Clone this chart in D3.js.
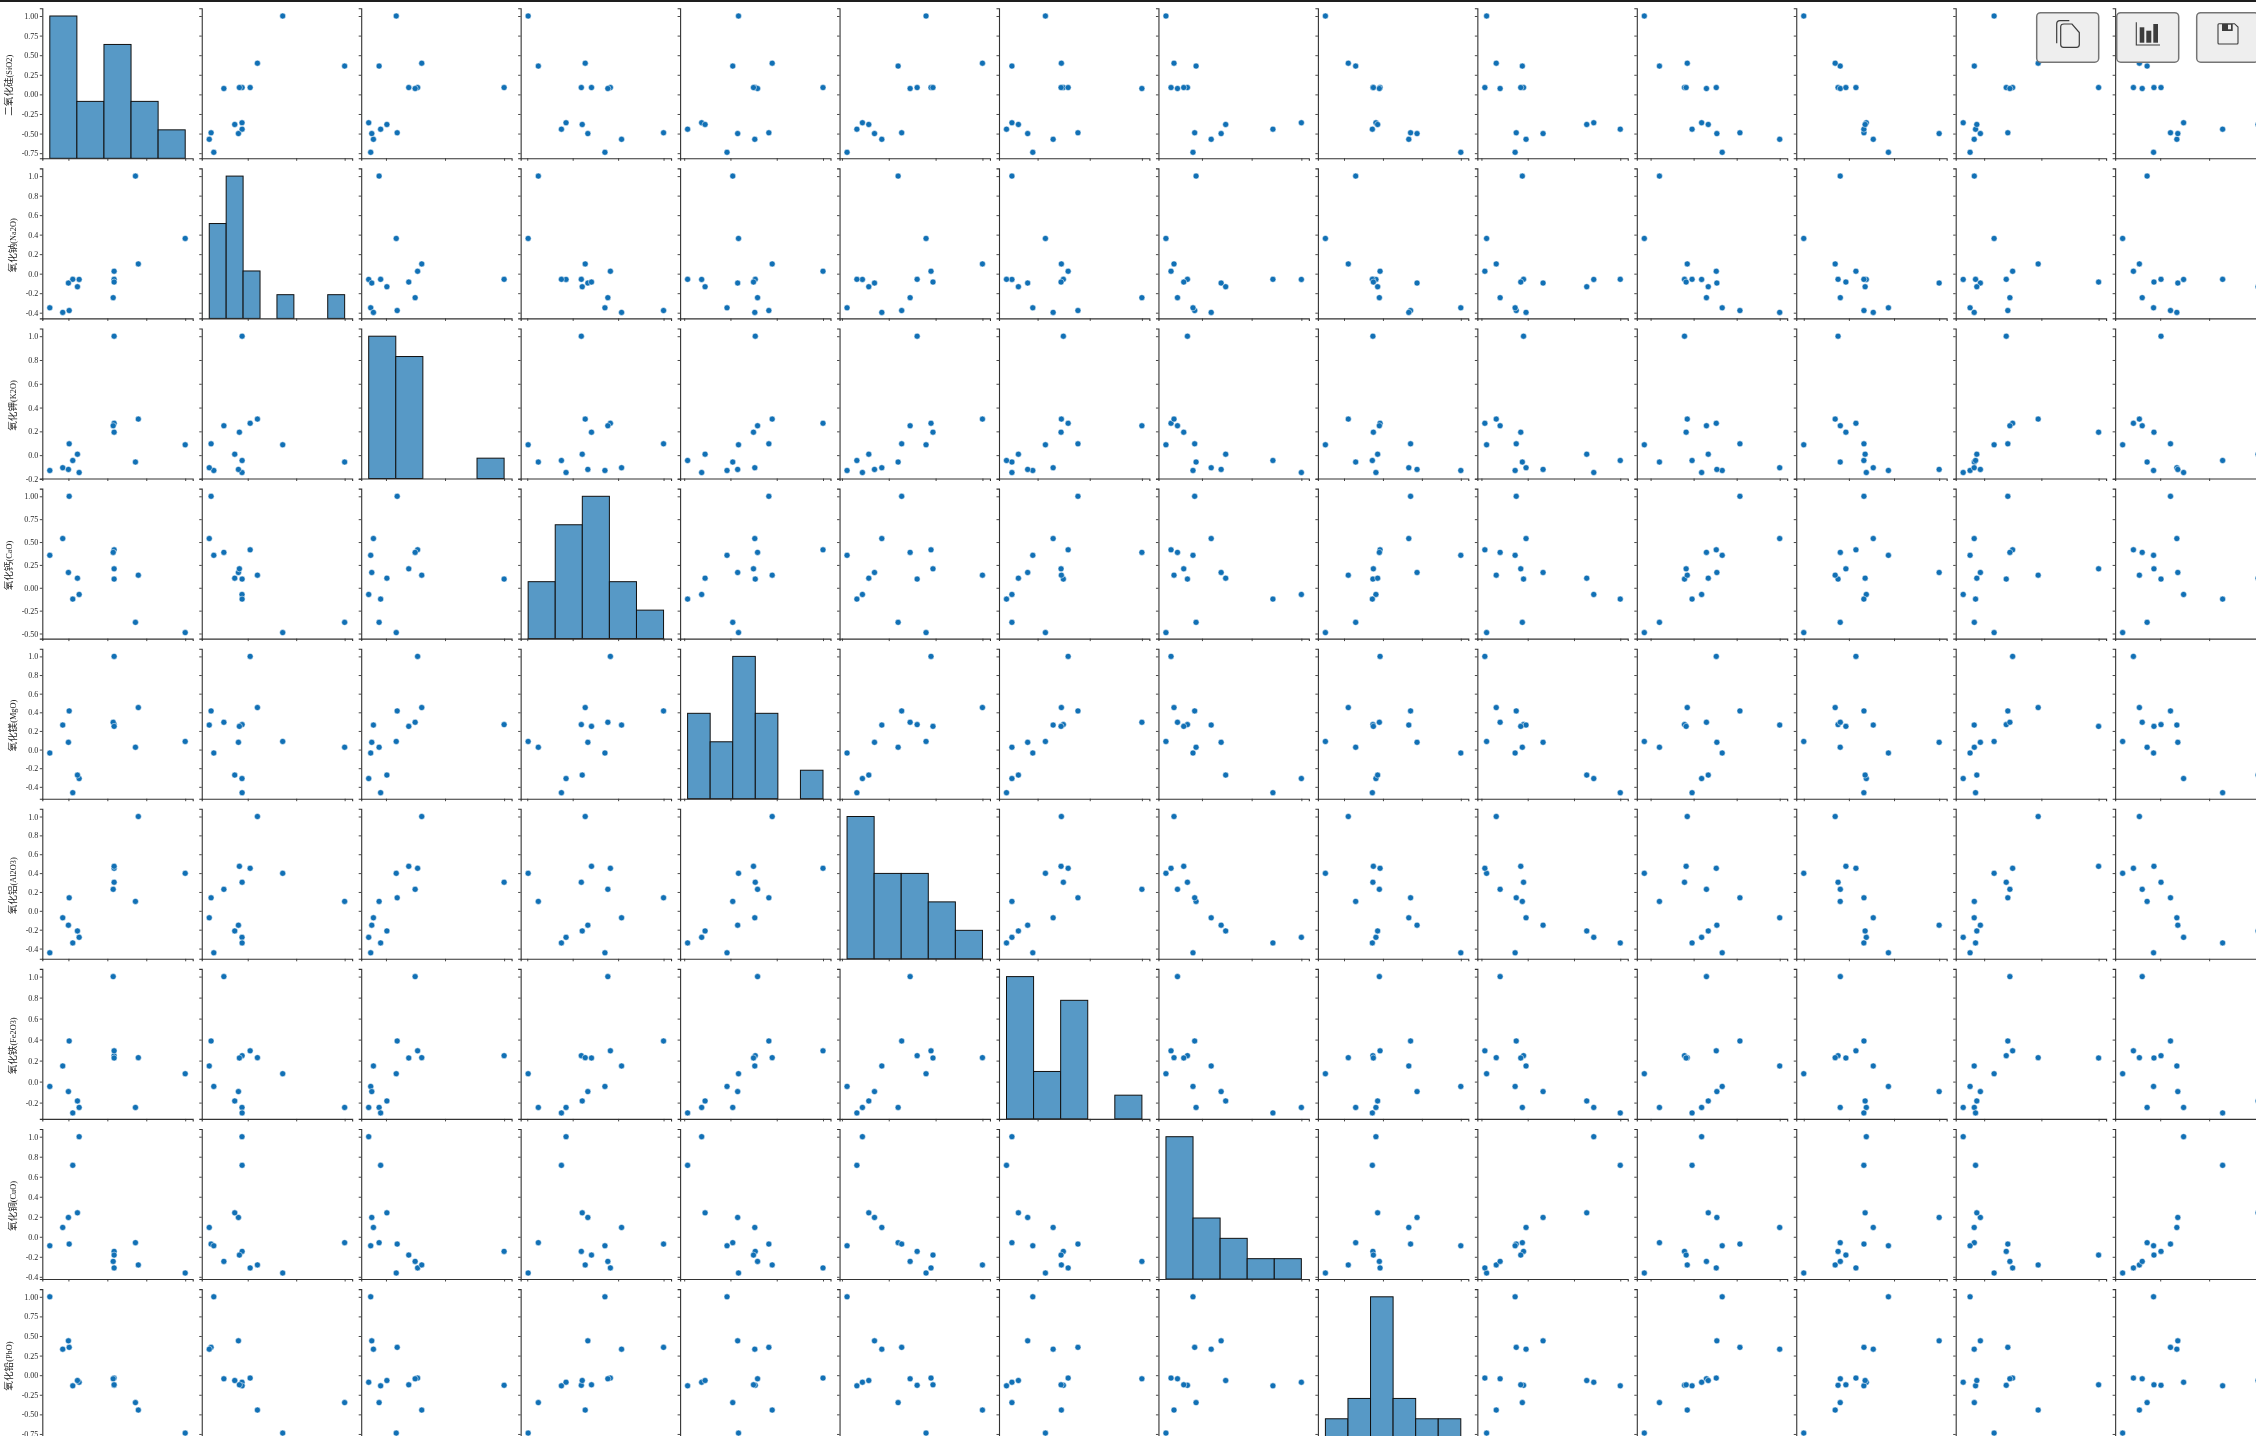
<!DOCTYPE html>
<html>
<head>
<meta charset="utf-8">
<script src="https://cdn.jsdelivr.net/npm/d3@7"></script>
<style>
  html, body { margin: 0; background: #fff; overflow: hidden; }
  svg { display: block; }
  .plots { filter: blur(0.4px); }
  .tick text { font-family: "Liberation Serif", serif; font-size: 8px; fill: #262626; }
  .ylabel { font-family: "Liberation Serif", "Noto Sans CJK SC", serif; fill: #262626; }
</style>
</head>
<body>
<script>
// labels for the rows, chinese part and formula part
const labelCn = ['二氧化硅', '氧化钠', '氧化钾', '氧化钙', '氧化镁', '氧化铝', '氧化铁', '氧化铜', '氧化铅'];
const labelEn = ['(SiO2)', '(Na2O)', '(K2O)', '(CaO)', '(MgO)', '(Al2O3)', '(Fe2O3)', '(CuO)', '(PbO)'];

// one column per oxide, same order in every list:
// SiO2 Na2O K2O CaO MgO Al2O3 Fe2O3 CuO PbO BaO P2O5 SrO SnO2 SO2
const siO2 = [1, 0.361, 0.087, -0.49, 0.087, 0.398, 0.075, -0.362, -0.739, -0.444, -0.573, -0.5, 0.087, -0.384];
const na2O = [0.361, 1, -0.058, -0.378, 0.025, 0.1, -0.246, -0.059, -0.35, -0.058, -0.397, -0.096, -0.086, -0.134];
const k2O = [0.087, -0.058, 1, 0.095, 0.268, 0.303, 0.247, -0.146, -0.129, -0.045, -0.106, -0.12, 0.193, 0.008];
const caO = [-0.49, -0.378, 0.095, 1, 0.415, 0.138, 0.387, -0.073, 0.355, -0.124, 0.538, 0.167, 0.207, 0.105];
const mgO = [0.087, 0.025, 0.268, 0.415, 1, 0.451, 0.293, -0.311, -0.037, -0.463, 0.263, 0.078, 0.249, -0.274];
const al2O3 = [0.398, 0.1, 0.303, 0.138, 0.451, 1, 0.228, -0.281, -0.445, -0.34, -0.074, -0.152, 0.472, -0.213];
const fe2O3 = [0.075, -0.246, 0.247, 0.387, 0.293, 0.228, 1, -0.246, -0.046, -0.298, 0.149, -0.095, 0.225, -0.184];
const cuO = [-0.362, -0.059, -0.146, -0.073, -0.311, -0.281, -0.246, 1, -0.09, 0.714, 0.093, 0.193, -0.183, 0.239];
const pbO = [-0.739, -0.35, -0.129, 0.355, -0.037, -0.445, -0.046, -0.09, 1, -0.136, 0.332, 0.438, -0.123, -0.068];
const baO = [-0.444, -0.058, -0.045, -0.124, -0.463, -0.34, -0.298, 0.714, -0.136, 1, -0.018, 0.166, -0.075, 0.638];
const p2O5 = [-0.573, -0.397, -0.106, 0.538, 0.263, -0.074, 0.149, 0.093, 0.332, -0.018, 1, 0.27, -0.087, 0.17];
const srO = [-0.5, -0.096, -0.12, 0.167, 0.078, -0.152, -0.095, 0.193, 0.438, 0.166, 0.27, 1, -0.033, 0.18];
const snO2 = [0.087, -0.086, 0.193, 0.207, 0.249, 0.472, 0.225, -0.183, -0.123, -0.075, -0.087, -0.033, 1, -0.064];
const sO2 = [-0.384, -0.134, 0.008, 0.105, -0.274, -0.213, -0.184, 0.239, -0.068, 0.638, 0.17, 0.18, -0.064, 1];
const columns = [siO2, na2O, k2O, caO, mgO, al2O3, fe2O3, cuO, pbO, baO, p2O5, srO, snO2, sO2];

// bar counts of the histograms on the diagonal
const histCounts = [
  [5, 2, 4, 2, 1],
  [4, 6, 2, 0, 1, 0, 0, 1],
  [7, 6, 0, 0, 1],
  [2, 4, 5, 2, 1],
  [3, 2, 5, 3, 0, 1],
  [5, 3, 3, 2, 1],
  [6, 2, 5, 0, 1],
  [7, 3, 2, 1, 1],
  [1, 2, 7, 2, 1, 1],
];

// tick labels
const yQuarters = [-0.75, -0.5, -0.25, 0, 0.25, 0.5, 0.75, 1];
const yCaO = [-0.5, -0.25, 0, 0.25, 0.5, 0.75, 1];
const yFifths = [-0.4, -0.2, 0, 0.2, 0.4, 0.6, 0.8, 1];
const yShort = [-0.2, 0, 0.2, 0.4, 0.6, 0.8, 1];
const yTicks = [yQuarters, yFifths, yShort, yCaO, yFifths, yFifths, yShort, yFifths, yQuarters];
const yDigits = [2, 1, 1, 2, 1, 1, 1, 1, 2];
const xLong = [-0.5, 0, 0.5, 1];
const xShort = [0, 0.5, 1];
const xTicks = [xLong, xShort, xShort, xLong, xLong, xLong, xShort, xShort, xLong, xLong, xLong, xLong, xShort, xShort];

// layout of the grid
const width = 2256, height = 1436;
const axLeft = 42.3, axTop = 8.3, colStep = 159.45, rowStep = 160.1, axW = 150.4, axH = 150;
const padX = 7.5, padTop = 7.7, padBottom = 6;

const svg = d3.select('body').append('svg').attr('width', width).attr('height', height);
const plots = svg.append('g').attr('class', 'plots');

function cellScales(row, col) {
  const left = axLeft + col * colStep;
  const top = axTop + row * rowStep;
  const [xMin, xMax] = d3.extent(columns[col]);
  const [yMin, yMax] = d3.extent(columns[row]);
  const xp = (xMax - xMin) * padX / (axW - 2 * padX);
  const yUnit = (yMax - yMin) / (axH - padTop - padBottom);
  const x = d3.scaleLinear().domain([xMin - xp, xMax + xp]).range([left, left + axW]);
  const y = d3.scaleLinear().domain([yMin - padBottom * yUnit, yMax + padTop * yUnit]).range([top + axH, top]);
  return { x, y, top, left };
}

function drawHist(g, row, x, top) {
  const counts = histCounts[row];
  const [lo, hi] = d3.extent(columns[row]);
  const binW = (hi - lo) / counts.length;
  const h = d3.scaleLinear().domain([0, d3.max(counts)]).range([top + axH, top + padTop]);
  g.selectAll('rect')
    .data(counts.map((c, i) => ({ c, i })).filter((d) => d.c > 0))
    .join('rect')
    .attr('x', (d) => x(lo + d.i * binW))
    .attr('width', (d) => x(lo + (d.i + 1) * binW) - x(lo + d.i * binW))
    .attr('y', (d) => h(d.c))
    .attr('height', (d) => h(0) - h(d.c))
    .attr('fill', '#5799c6')
    .attr('stroke', '#111')
    .attr('stroke-width', 1);
}

function drawPoints(g, row, col, x, y) {
  g.selectAll('circle')
    .data(d3.range(columns.length))
    .join('circle')
    .attr('cx', (j) => x(columns[col][j]))
    .attr('cy', (j) => y(columns[row][j]))
    .attr('r', 3)
    .attr('fill', '#1170b5')
    .attr('stroke', '#fff')
    .attr('stroke-width', 0.5);
}

function drawAxes(g, row, col, x, y, top) {
  const yAxis = d3.axisLeft(y).tickValues(yTicks[row]).tickSizeOuter(0).tickSize(2.5).tickPadding(1.5);
  if (col === 0) {
    const fmt = d3.format('.' + yDigits[row] + 'f');
    yAxis.tickFormat((v) => fmt(v).replace('\u2212', '-'));
  } else {
    yAxis.tickFormat('');
  }
  const xAxis = d3.axisBottom(x).tickValues(xTicks[col]).tickSizeOuter(0).tickSize(2.5).tickFormat('');
  [
    g.append('g').attr('transform', 'translate(' + x.range()[0] + ',0)').call(yAxis),
    g.append('g').attr('transform', 'translate(0,' + (top + axH) + ')').call(xAxis),
  ].forEach((a) => {
    a.selectAll('path.domain').attr('stroke', '#333').attr('stroke-width', 1.1);
    a.selectAll('.tick line').attr('stroke', '#333').attr('stroke-width', 0.9);
  });
}

// only 9 rows fit in the window, the other 5 fall below it
labelCn.forEach((_, row) => {
  columns.forEach((_, col) => {
    const { x, y, top } = cellScales(row, col);
    const g = plots.append('g');
    if (row === col) drawHist(g.append('g'), row, x, top);
    else drawPoints(g.append('g'), row, col, x, y);
    drawAxes(g.append('g'), row, col, x, y, top);
  });

  const cy = axTop + row * rowStep + axH / 2 + 2;
  const lx = yDigits[row] === 2 ? 11.5 : 15.5;
  const label = plots.append('text')
    .attr('class', 'ylabel')
    .attr('transform', 'translate(' + lx + ',' + cy + ') rotate(-90)')
    .attr('text-anchor', 'middle');
  label.append('tspan').attr('font-size', 9.6).text(labelCn[row]);
  label.append('tspan').attr('font-size', 8.3).text(labelEn[row]);
});

// window bar and the toolbar buttons on top of the plot
svg.append('rect').attr('width', width).attr('height', 2).attr('fill', '#1e1e1e');

const buttons = svg.append('g');
[2036.7, 2116.7, 2196.7].forEach((bx) => {
  buttons.append('rect')
    .attr('x', bx).attr('y', 12.7).attr('width', 62).attr('height', 49.5).attr('rx', 4)
    .attr('fill', '#eeeeee').attr('stroke', '#757575').attr('stroke-width', 1.5);
});
const iconColor = '#3c3c3c';
// copy
buttons.append('path')
  .attr('d', 'M2064,24 H2072 L2079.3,32.5 V44.5 Q2079.3,47.3 2076.5,47.3 H2063.5 Q2060.7,47.3 2060.7,44.5 V26.8 Q2060.7,24 2064,24 Z M2056.7,43.3 V24 Q2056.7,20.7 2060,20.7 H2069.3')
  .attr('fill', 'none').attr('stroke', iconColor).attr('stroke-width', 1.2);
// bar chart
buttons.append('path')
  .attr('d', 'M2136.3,22.3 V45 H2160')
  .attr('fill', 'none').attr('stroke', iconColor).attr('stroke-width', 1.1);
[[2139.7, 27.3, 4.6], [2146.3, 30.7, 5], [2153.3, 24, 4.7]].forEach(([bx, by, bw]) => {
  buttons.append('rect').attr('x', bx).attr('y', by).attr('width', bw).attr('height', 42.7 - by).attr('fill', iconColor);
});
// save
buttons.append('path')
  .attr('d', 'M2219,23.7 H2234.5 L2238,27 V43 Q2238,44 2237,44 H2219 Q2218,44 2218,43 V24.7 Q2218,23.7 2219,23.7 Z')
  .attr('fill', 'none').attr('stroke', iconColor).attr('stroke-width', 1.1);
buttons.append('rect').attr('x', 2222).attr('y', 24).attr('width', 10.7).attr('height', 7).attr('fill', iconColor);
buttons.append('rect').attr('x', 2228).attr('y', 24.7).attr('width', 3).attr('height', 4.6).attr('fill', '#eeeeee');
</script>
</body>
</html>
